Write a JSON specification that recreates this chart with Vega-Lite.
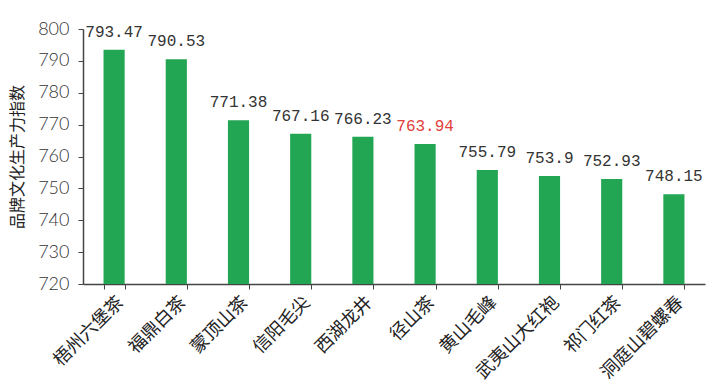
{
  "$schema": "https://vega.github.io/schema/vega-lite/v6.json",
  "autosize": {"type": "none"},
  "padding": {"left": 83, "top": 29, "right": 13, "bottom": 104},
  "width": 622,
  "height": 255,
  "background": "white",
  "config": {"view": {"stroke": null}},
  "data": {
    "values": [
      {"name": "梧州六堡茶", "value": 793.47, "label": "793.47", "hl": "no"},
      {"name": "福鼎白茶", "value": 790.53, "label": "790.53", "hl": "no"},
      {"name": "蒙顶山茶", "value": 771.38, "label": "771.38", "hl": "no"},
      {"name": "信阳毛尖", "value": 767.16, "label": "767.16", "hl": "no"},
      {"name": "西湖龙井", "value": 766.23, "label": "766.23", "hl": "no"},
      {"name": "径山茶", "value": 763.94, "label": "763.94", "hl": "yes"},
      {"name": "黄山毛峰", "value": 755.79, "label": "755.79", "hl": "no"},
      {"name": "武夷山大红袍", "value": 753.9, "label": "753.9", "hl": "no"},
      {"name": "祁门红茶", "value": 752.93, "label": "752.93", "hl": "no"},
      {"name": "洞庭山碧螺春", "value": 748.15, "label": "748.15", "hl": "no"}
    ]
  },
  "encoding": {
    "x": {
      "field": "name", "type": "nominal", "sort": null,
      "scale": {"paddingInner": 0.66, "paddingOuter": 0.33},
      "axis": {
        "title": null, "labelAngle": -45, "labelAlign": "right", "labelBaseline": "top",
        "labelFont": "Noto Sans CJK SC", "labelFontSize": 18, "labelColor": "#222",
        "labelPadding": 4, "labelOverlap": false, "labelLimit": 0,
        "domainColor": "#444", "domainWidth": 1.5, "tickColor": "#444", "tickSize": 5,
        "tickBand": "extent", "ticks": true, "grid": false
      }
    },
    "y": {
      "field": "value", "type": "quantitative",
      "scale": {"domain": [720, 800], "zero": false, "nice": false},
      "axis": {
        "title": "品牌文化生产力指数", "titleFont": "Noto Sans CJK SC", "titleFontSize": 16,
        "titleFontWeight": "normal", "titleColor": "#222", "titlePadding": 12,
        "tickCount": 9,
        "labelOverlap": false,
        "labelFont": "Lato", "labelFontWeight": 300, "labelFontSize": 18, "labelColor": "#333",
        "labelPadding": 9,
        "domainColor": "#444", "domainWidth": 1.5, "tickColor": "#444", "tickSize": 5,
        "grid": false
      }
    }
  },
  "layer": [
    {
      "mark": {"type": "bar", "color": "#22a653"},
      "encoding": {
        "y2": {"datum": 720}
      }
    },
    {
      "mark": {"type": "text", "baseline": "bottom", "dy": -10, "font": "Liberation Mono", "fontSize": 16},
      "encoding": {
        "text": {"field": "label"},
        "color": {
          "field": "hl", "type": "nominal",
          "scale": {"domain": ["no", "yes"], "range": ["#333333", "#e0413c"]},
          "legend": null
        }
      }
    }
  ]
}
